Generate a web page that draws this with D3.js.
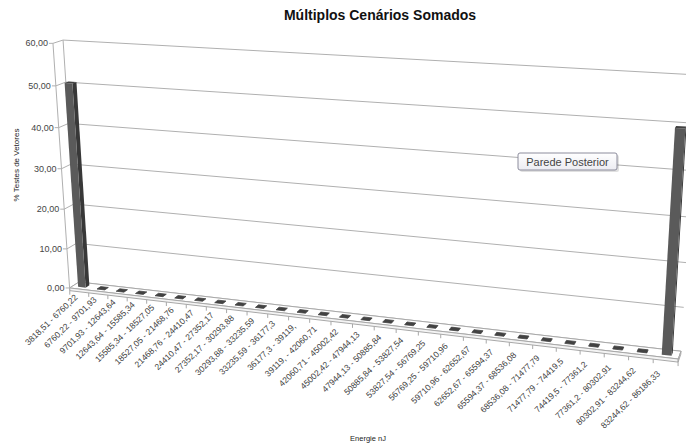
<!DOCTYPE html>
<html>
<head>
<meta charset="utf-8">
<script src="https://cdn.jsdelivr.net/npm/d3@7"></script>
<style>
  html, body { margin: 0; padding: 0; background: #ffffff; }
  svg { display: block; }
  text { font-family: "Liberation Sans", Arial, sans-serif; }
</style>
</head>
<body>
<svg id="chart" width="686" height="447"></svg>
<script>
// ---- data ---------------------------------------------------------------
const categories = [
  "3818,51 - 6760,22", "6760,22 - 9701,93", "9701,93 - 12643,64",
  "12643,64 - 15585,34", "15585,34 - 18527,05", "18527,05 - 21468,76",
  "21468,76 - 24410,47", "24410,47 - 27352,17", "27352,17 - 30293,88",
  "30293,88 - 33235,59", "33235,59 - 36177,3", "36177,3 - 39119,",
  "39119, - 42060,71", "42060,71 - 45002,42", "45002,42 - 47944,13",
  "47944,13 - 50885,84", "50885,84 - 53827,54", "53827,54 - 56769,25",
  "56769,25 - 59710,96", "59710,96 - 62652,67", "62652,67 - 65594,37",
  "65594,37 - 68536,08", "68536,08 - 71477,79", "71477,79 - 74419,5",
  "74419,5 - 77361,2", "77361,2 - 80302,91", "80302,91 - 83244,62",
  "83244,62 - 86186,33"
];
const values = [
  50.5, 0, 0, 0, 0, 0, 0, 0, 0, 0, 0, 0, 0, 0,
  0, 0, 0, 0, 0, 0, 0, 0, 0, 0, 0, 0, 0, 49.5
];
const valueTicks = [0, 10, 20, 30, 40, 50, 60];
const chartTitle = "Múltiplos Cenários Somados";
const valueAxisTitle = "% Testes de Vetores";
const categoryAxisTitle = "Energie nJ";
const wallLabel = "Parede Posterior";

// ---- 3-D perspective camera ------------------------------------------------
// u: along the category axis (0..1), v: along the value axis (0..1),
// w: depth (0 = back wall, -1 = front edge of the floor)
const cam = {
  origin: [79, 282],
  vpU: [-3939, -180], kU: -0.1303,
  vpV: [390, 5000],   kV: -0.04878,
  vpZ: [882, -227],   kZ: 0.01157
};
function project(u, v, w) {
  const a = cam.kU * u, b = cam.kV * v, c = cam.kZ * w;
  const d = a + b + c + 1;
  return [
    (a * cam.vpU[0] + b * cam.vpV[0] + c * cam.vpZ[0] + cam.origin[0]) / d,
    (a * cam.vpU[1] + b * cam.vpV[1] + c * cam.vpZ[1] + cam.origin[1]) / d
  ];
}
const poly = pts => "M" + pts.map(p => p[0].toFixed(2) + "," + p[1].toFixed(2)).join("L") + "Z";
const seg = (p, q) => "M" + p[0].toFixed(2) + "," + p[1].toFixed(2) + "L" + q[0].toFixed(2) + "," + q[1].toFixed(2);

// ---- scales ----------------------------------------------------------------
const xBand = d3.scaleBand().domain(categories).range([0, 1])
  .paddingInner(0.6).paddingOuter(0.3);
const yVal = d3.scaleLinear().domain([0, 60]).range([0, 1]);
const fmt = d3.formatLocale({ decimal: ",", thousands: ".", grouping: [3], currency: ["", ""] }).format(".2f");

const floorT = yVal(0.7);          // floor slab thickness
const barFront = -0.7, barBack = -0.3;
const step = xBand.step();

const svg = d3.select("#chart");
const gridColor = "#b0b0b0";

// ---- walls -----------------------------------------------------------------
const walls = svg.append("g").attr("fill", "none").attr("stroke", gridColor).attr("stroke-width", 1);
valueTicks.forEach(t => {
  const v = yVal(t);
  // back wall gridline
  walls.append("path").attr("d", seg(project(0, v, 0), project(1, v, 0)));
  // side wall gridline
  walls.append("path").attr("d", seg(project(0, v, -1), project(0, v, 0)));
});
// back-left corner edge
walls.append("path").attr("d", seg(project(0, 0, 0), project(0, 1, 0)));

// ---- floor -----------------------------------------------------------------
const floor = svg.append("g").attr("stroke", "#a8a8a8").attr("stroke-width", 1);
floor.append("path").attr("fill", "#ffffff")
  .attr("d", poly([project(0, 0, 0), project(1, 0, 0), project(1, 0, -1), project(0, 0, -1)]));
floor.append("path").attr("fill", "#f4f4f4")
  .attr("d", poly([project(0, 0, -1), project(1, 0, -1), project(1, -floorT, -1), project(0, -floorT, -1)]));
floor.append("path").attr("fill", "#eeeeee")
  .attr("d", poly([project(1, 0, -1), project(1, 0, 0), project(1, -floorT, 0), project(1, -floorT, -1)]));
// category tick marks
d3.range(categories.length + 1).forEach(k => {
  const p = project(k * step, -floorT, -1);
  floor.append("path").attr("fill", "none").attr("d", seg(p, [p[0], p[1] + 4]));
});

// ---- bars ------------------------------------------------------------------
const bars = svg.append("g");
categories.forEach((cat, i) => {
  const u0 = xBand(cat), u1 = u0 + xBand.bandwidth();
  const v = yVal(values[i]);
  const g = bars.append("g");
  if (v > 0) {
    // right side face
    g.append("path").attr("fill", "#383838")
      .attr("d", poly([project(u1, 0, barFront), project(u1, 0, barBack), project(u1, v, barBack), project(u1, v, barFront)]));
    // front face
    g.append("path").attr("fill", "#5a5a5a")
      .attr("d", poly([project(u0, 0, barFront), project(u1, 0, barFront), project(u1, v, barFront), project(u0, v, barFront)]));
  }
  // top face
  g.append("path").attr("fill", "#424242").attr("stroke", "#424242").attr("stroke-width", v > 0 ? 0 : 0.8)
    .attr("d", poly([project(u0, v, barFront), project(u1, v, barFront), project(u1, v, barBack), project(u0, v, barBack)]));
});

// ---- value axis --------------------------------------------------------------
const axis = svg.append("g");
axis.append("path").attr("stroke", gridColor).attr("fill", "none")
  .attr("d", seg(project(0, -floorT, -1), project(0, 1, -1)));
valueTicks.forEach(t => {
  const p = project(0, yVal(t), -1);
  axis.append("path").attr("stroke", gridColor).attr("fill", "none").attr("d", seg([p[0] - 4, p[1]], p));
  axis.append("text").attr("x", p[0] - 5).attr("y", p[1]).attr("dy", "0.35em")
    .attr("text-anchor", "end").attr("font-size", 9).attr("fill", "#454545").text(fmt(t));
});

// ---- category labels ---------------------------------------------------------
const catLabels = svg.append("g");
categories.forEach((cat, i) => {
  const uc = xBand(cat) + xBand.bandwidth() / 2;
  const p = project(uc, -floorT, -1);
  const x = p[0] - 1 - 4 * uc, y = p[1] + 6 + 8 * uc;
  catLabels.append("text")
    .attr("transform", `translate(${x.toFixed(2)},${y.toFixed(2)}) rotate(-44)`)
    .attr("text-anchor", "end").attr("font-size", 8.5).attr("fill", "#404040").text(cat);
});

// ---- titles ----------------------------------------------------------------
svg.append("text").attr("x", 380).attr("y", 20).attr("text-anchor", "middle")
  .attr("font-size", 14).attr("font-weight", "bold").attr("fill", "#111").text(chartTitle);
svg.append("text").attr("transform", "translate(19,165) rotate(-90)").attr("text-anchor", "middle")
  .attr("font-size", 8).attr("fill", "#222").text(valueAxisTitle);
svg.append("text").attr("x", 368).attr("y", 441).attr("text-anchor", "middle")
  .attr("font-size", 7.5).attr("fill", "#222").text(categoryAxisTitle);

// ---- wall callout ------------------------------------------------------------
const defs = svg.append("defs");
const grad = defs.append("linearGradient").attr("id", "calloutFill").attr("x1", 0).attr("y1", 0).attr("x2", 0).attr("y2", 1);
grad.append("stop").attr("offset", 0).attr("stop-color", "#ffffff");
grad.append("stop").attr("offset", 1).attr("stop-color", "#ececf2");
const callout = svg.append("g").attr("transform", "translate(518,153)");
callout.append("rect").attr("x", 2).attr("y", 2).attr("width", 99).attr("height", 17).attr("rx", 2)
  .attr("fill", "#000").attr("fill-opacity", 0.12);
callout.append("rect").attr("width", 99).attr("height", 17).attr("rx", 2)
  .attr("fill", "url(#calloutFill)").attr("stroke", "#8c8c9c").attr("stroke-width", 1);
callout.append("text").attr("x", 49.5).attr("y", 12.5).attr("text-anchor", "middle")
  .attr("font-size", 11).attr("fill", "#444").text(wallLabel);
</script>
</body>
</html>
